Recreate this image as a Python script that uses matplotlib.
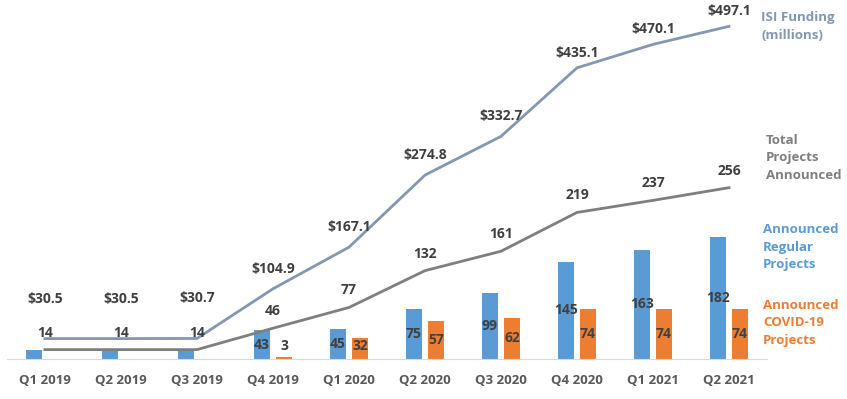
import numpy as np
import matplotlib
matplotlib.use("Agg")
import matplotlib.pyplot as plt

quarters = ["Q1 2019", "Q2 2019", "Q3 2019", "Q4 2019", "Q1 2020",
            "Q2 2020", "Q3 2020", "Q4 2020", "Q1 2021", "Q2 2021"]
regular = [14, 14, 14, 43, 45, 75, 99, 145, 163, 182]
covid = [0, 0, 0, 3, 32, 57, 62, 74, 74, 74]
total = [14, 14, 14, 46, 77, 132, 161, 219, 237, 256]
funding = [30.5, 30.5, 30.7, 104.9, 167.1, 274.8, 332.7, 435.1, 470.1, 497.1]

BLUE = "#5B9BD5"
ORANGE = "#ED7D31"
GRAY = "#7F7F7F"
SLATE = "#8497B0"
LABEL = "#404040"

plt.rcParams["font.family"] = ["Open Sans", "DejaVu Sans"]

W, H = 847, 399
fig = plt.figure(figsize=(W / 100, H / 100), dpi=100)
ax = fig.add_axes([7 / W, 40 / H, 760 / W, 348 / H])

x = np.arange(len(quarters))
bw = 0.22
off = 0.145
ax.bar(x - off, regular, bw, color=BLUE, zorder=2)
ax.bar(x + off, covid, bw, color=ORANGE, zorder=2)
ax.plot(x, total, color=GRAY, lw=2, zorder=3)
ax.plot(x, funding, color=SLATE, lw=2, zorder=3)

lab = dict(ha="center", va="center", fontsize=10, fontweight="bold", color=LABEL)
for i in range(len(x)):
    if covid[i] > 0:
        ax.text(x[i] - off, max(regular[i] / 2, 19), str(regular[i]), **lab)
        ax.text(x[i] + off, max(covid[i] / 2, 19), str(covid[i]), **lab)
    ax.annotate(str(total[i]), (x[i], total[i]), xytext=(0, 17),
                textcoords="offset pixels", **lab)
    if funding[i] < 50:
        dy = 40
    elif funding[i] > 400:
        dy = 15
    else:
        dy = 20
    ax.annotate(f"${funding[i]:.1f}", (x[i], funding[i]), xytext=(0, dy),
                textcoords="offset pixels", **lab)

ax.set_xlim(-0.5, len(x) - 0.5)
ax.set_ylim(0, 520)
ax.set_yticks([])
ax.set_xticks(x)
ax.set_xticklabels(quarters, fontsize=9.5, fontweight="bold", color="#595959")
ax.tick_params(axis="x", length=0, pad=11)
for s in ["top", "right", "left"]:
    ax.spines[s].set_visible(False)
ax.spines["bottom"].set_color("#D9D9D9")

side = dict(ha="left", va="center", fontsize=9.5, fontweight="bold", linespacing=1.45)
fig.text(761 / W, 1 - 26.5 / H, "ISI Funding\n(millions)", color=SLATE, **side)
fig.text(766 / W, 1 - 158 / H, "Total\nProjects\nAnnounced", color=GRAY, **side)
fig.text(763 / W, 1 - 247 / H, "Announced\nRegular\nProjects", color=BLUE, **side)
fig.text(763 / W, 1 - 323 / H, "Announced\nCOVID-19\nProjects", color=ORANGE, **side)

fig.savefig("out.png", dpi=100)
